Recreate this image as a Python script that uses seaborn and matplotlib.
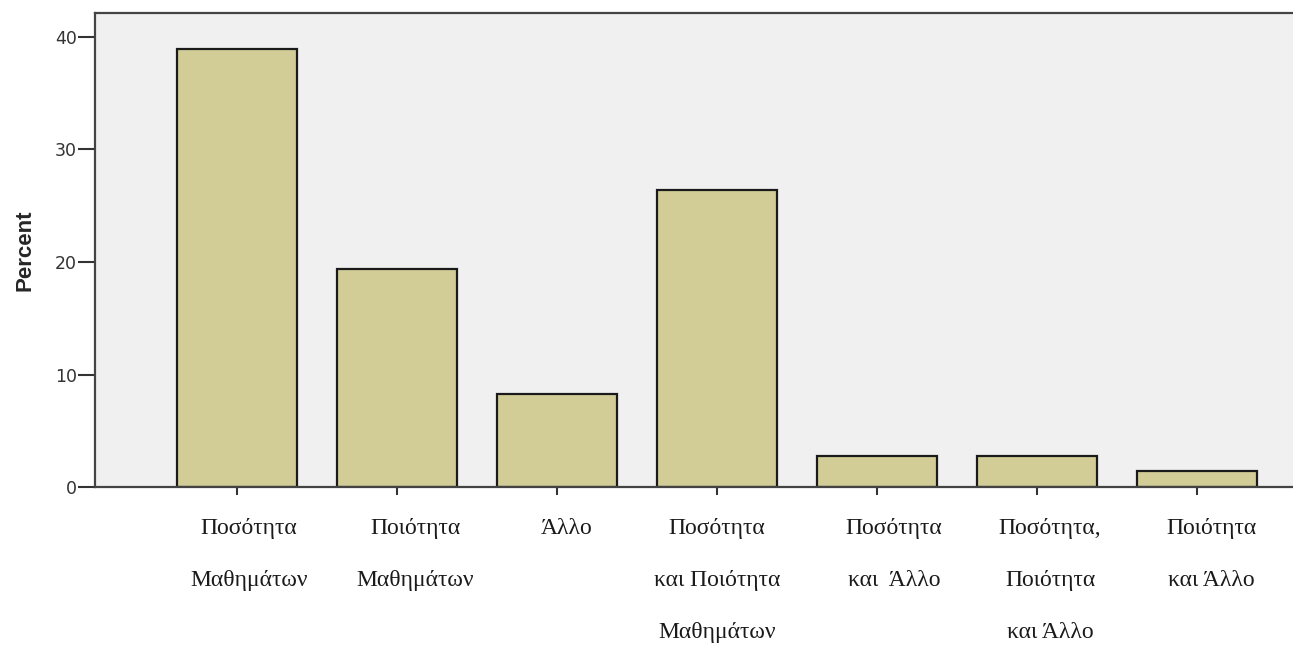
import matplotlib
matplotlib.use("Agg")
import matplotlib.pyplot as plt
import matplotlib.transforms as mtransforms
import seaborn as sns
import pandas as pd

# data (percent of respondents, n = 72)
categories = [
    "Ποσότητα\nΜαθημάτων",
    "Ποιότητα\nΜαθημάτων",
    "Άλλο\n",
    "Ποσότητα\nκαι Ποιότητα\nΜαθημάτων",
    "Ποσότητα\nκαι  Άλλο",
    "Ποσότητα,\nΠοιότητα\nκαι Άλλο",
    "Ποιότητα\nκαι Άλλο",
]
percent = [38.9, 19.4, 8.3, 26.4, 2.8, 2.8, 1.4]
y_ticks = [0, 10, 20, 30, 40]

# the category labels in the original sit a little right of their ticks
label_nudge_px = [12, 18, 10, 0, 17, 13, 14]

df = pd.DataFrame({"category": categories, "percent": percent})

sns.set_style("white")
plt.rcParams["font.family"] = ["Liberation Sans", "DejaVu Sans"]

fig = plt.figure(figsize=(12.93, 6.47), dpi=100)
ax = fig.add_axes([0.0735, 0.247, 0.9265, 0.733])
ax.set_facecolor("#f0f0f0")

sns.barplot(data=df, x="category", y="percent", color="#d2cd96",
            saturation=1, width=0.75, edgecolor="#1a1a1a", linewidth=1.6,
            ax=ax)

ax.set_xlim(-0.8875, 6.6)
ax.set_ylim(0, 42.1)
ax.set_yticks(y_ticks)
ax.set_yticklabels([str(t) for t in y_ticks], fontsize=12.5,
                   family=["DejaVu Sans"], color="#333333")
ax.tick_params(axis="y", direction="out", length=12, width=1.5,
               color="#333333", pad=1, left=True)
ax.tick_params(axis="x", direction="out", length=6, width=1.5,
               color="#333333", pad=16, bottom=True)

for lab, dx in zip(ax.get_xticklabels(), label_nudge_px):
    lab.set_fontfamily(["Liberation Serif", "DejaVu Serif"])
    lab.set_fontsize(17)
    lab.set_linespacing(2.95)
    lab.set_verticalalignment("top")
    lab.set_color("#1a1a1a")
    shift = mtransforms.ScaledTranslation(dx / 100, 0, fig.dpi_scale_trans)
    lab.set_transform(lab.get_transform() + shift)

ax.set_xlabel("")
ax.set_ylabel("Percent", fontsize=16, fontweight="bold", labelpad=14)

for side in ["left", "bottom", "top"]:
    ax.spines[side].set_visible(True)
    ax.spines[side].set_color("#444444")
    ax.spines[side].set_linewidth(1.6)
ax.spines["right"].set_visible(False)

fig.savefig("out.png", dpi=100)
